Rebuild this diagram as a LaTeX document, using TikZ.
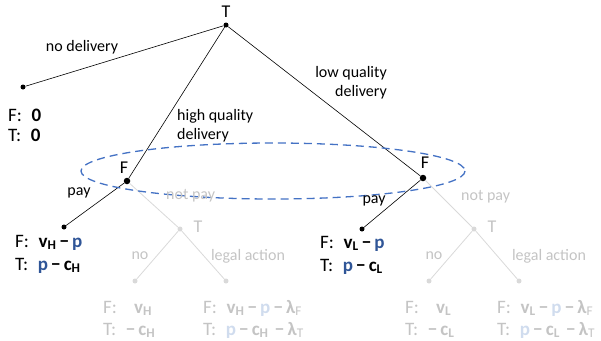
\documentclass[tikz,border=0pt]{standalone}
\usepackage{fontspec}
\setmainfont{Carlito}
\definecolor{ellblue}{HTML}{4472C4}
\definecolor{pblue}{HTML}{2F5597}
\definecolor{lgline}{HTML}{D9D9D9}
\definecolor{lgtext}{HTML}{C4C4C4}
\definecolor{lgblue}{HTML}{D0DCEE}
\newcommand{\mysub}[1]{\textsubscript{\textbf{#1}}}
\newcommand{\mn}{\,\textbf{−}\,}
\begin{document}
\begin{tikzpicture}[x=1pt,y=-1pt,
  dot/.style={circle,fill=black,inner sep=0pt,minimum size=5pt},
  bigdot/.style={circle,fill=black,inner sep=0pt,minimum size=6.5pt},
  gdot/.style={circle,fill=lgline,inner sep=0pt,minimum size=5pt},
  blk/.style={draw=black,line width=0.6pt},
  gry/.style={draw=lgline,line width=0.8pt},
  lbl/.style={font=\fontsize{16}{19}\selectfont,inner sep=0pt},
  plbl/.style={font=\fontsize{18}{21}\selectfont,inner sep=0pt},
  glbl/.style={lbl,text=lgtext},
  gplbl/.style={plbl,text=lgtext},
  pay/.style={font=\fontsize{19}{22}\selectfont,inner sep=0pt,anchor=base west},
  gpay/.style={pay,text=lgtext}]
\useasboundingbox (0,0) rectangle (601,340);
% nodes
\node[dot] (T) at (226,25) {};
\node[dot] (ND) at (23,87) {};
\node[bigdot] (FH) at (127,181) {};
\node[bigdot] (FL) at (423,178) {};
\node[dot] (PH) at (64,227) {};
\node[dot] (PL) at (362,229) {};
\node[gdot] (TH) at (180,229) {};
\node[gdot] (TL) at (474,229) {};
\node[gdot] (HN) at (135,281) {};
\node[gdot] (HL) at (226,281) {};
\node[gdot] (LN) at (429,281) {};
\node[gdot] (LL) at (519,281) {};
% gray edges
\draw[gry] (FH) -- (TH);
\draw[gry] (TH) -- (HN);
\draw[gry] (TH) -- (HL);
\draw[gry] (FL) -- (TL);
\draw[gry] (TL) -- (LN);
\draw[gry] (TL) -- (LL);
% black edges
\draw[blk] (T) -- (ND);
\draw[blk] (T) -- (FH);
\draw[blk] (T) -- (FL);
\draw[blk] (FH) -- (PH);
\draw[blk] (FL) -- (PL);
% information set
\draw[ellblue,line width=1.3pt,dash pattern=on 8pt off 5pt] (273,171) ellipse [x radius=192, y radius=28];
% labels
\node[plbl] (Tl) at (226,12) {T};
\node[plbl] (FHl) at (124,168) {F};
\node[plbl] (FLl) at (425,163) {F};
\node[lbl] (ndl) at (82,47) {no delivery};
\node[lbl,anchor=west,align=left] (hql) at (177,126) {high quality\\delivery};
\node[lbl,anchor=east,align=right] (lql) at (387,83) {low quality\\delivery};
\node[lbl] (payH) at (79,193) {pay};
\node[lbl] (payL) at (374,201) {pay};
\node[glbl,anchor=west] (npH) at (166,196) {not pay};
\node[glbl,anchor=west] (npL) at (461,197) {not pay};
\node[gplbl] (THl) at (198,227) {T};
\node[gplbl] (TLl) at (492,227) {T};
\node[glbl] (noH) at (140,256) {no};
\node[glbl] (noL) at (434,256) {no};
\node[glbl] (laH) at (248,256) {legal action};
\node[glbl] (laL) at (549,256) {legal action};
% payoffs
\node[pay] (z1) at (8,121) {F:\hspace{0.5em}\textbf{0}};
\node[pay] (z2) at (8,141) {T:\hspace{0.5em}\textbf{0}};
\node[pay] (h1) at (15,247) {F:\hspace{0.5em}\textbf{v}\mysub{H}\mn\textbf{\color{pblue}p}};
\node[pay] (h2) at (15,270) {T:\hspace{0.5em}\textbf{\color{pblue}p}\mn\textbf{c}\mysub{H}};
\node[pay] (l1) at (320,248) {F:\hspace{0.5em}\textbf{v}\mysub{L}\mn\textbf{\color{pblue}p}};
\node[pay] (l2) at (320,271) {T:\hspace{0.5em}\textbf{\color{pblue}p}\mn\textbf{c}\mysub{L}};
\node[gpay] (hn1) at (103,313) {F:\hspace{0.9em}\textbf{v}\mysub{H}};
\node[gpay] (hn2) at (103,335) {T:\hspace{0.5em}\textbf{−}\,\textbf{c}\mysub{H}};
\node[gpay] (hl1) at (203,313) {F:\hspace{0.5em}\textbf{v}\mysub{H}\mn\textbf{\color{lgblue}p}\mn\textbf{λ}\textsubscript{F}};
\node[gpay] (hl2) at (203,335) {T:\hspace{0.5em}\textbf{\color{lgblue}p}\mn\textbf{c}\mysub{H}\,\mn\textbf{λ}\textsubscript{T}};
\node[gpay] (ln1) at (405,313) {F:\hspace{0.9em}\textbf{v}\mysub{L}};
\node[gpay] (ln2) at (405,335) {T:\hspace{0.5em}\textbf{−}\,\textbf{c}\mysub{L}};
\node[gpay] (ll1) at (497,313) {F:\hspace{0.5em}\textbf{v}\mysub{L}\mn\textbf{\color{lgblue}p}\mn\textbf{λ}\textsubscript{F}};
\node[gpay] (ll2) at (497,335) {T:\hspace{0.5em}\textbf{\color{lgblue}p}\mn\textbf{c}\mysub{L}\,\mn\textbf{λ}\textsubscript{T}};
\end{tikzpicture}
\end{document}
